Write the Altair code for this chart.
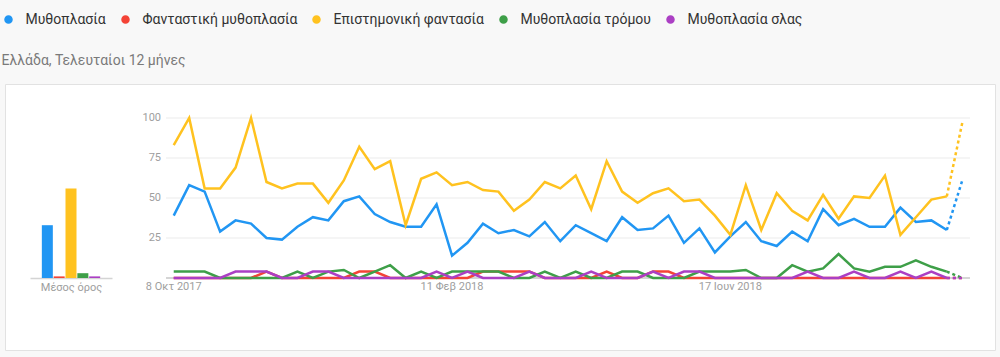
import altair as alt
import pandas as pd

# ---------------- data ----------------
terms = ["Μυθοπλασία", "Φανταστική μυθοπλασία", "Επιστημονική φαντασία",
         "Μυθοπλασία τρόμου", "Μυθοπλασία σλας"]
line_colors = ["#2196F3", "#F44336", "#FFC21F", "#3E9F48", "#AB3FC4"]

start_date = "2017-10-08"   # weekly series

blue_vals = [39, 58, 54, 29, 36, 34, 25, 24, 32, 38, 36, 48, 51, 40, 35, 32, 32, 46,
             14, 22, 34, 28, 30, 26, 35, 23, 33, 28, 23, 38, 30, 31, 39, 22, 31, 16,
             26, 35, 23, 20, 29, 23, 43, 33, 37, 32, 32, 44, 35, 36, 30, 61]
red_vals = [0, 0, 0, 0, 0, 0, 4, 0, 0, 0, 0, 0, 4, 4, 0, 0, 0, 0,
            0, 0, 4, 4, 4, 4, 0, 0, 0, 0, 4, 0, 0, 4, 4, 0, 0, 0,
            0, 0, 0, 0, 0, 0, 0, 0, 0, 0, 0, 0, 0, 0, 0, 0]
yellow_vals = [83, 100, 56, 56, 69, 100, 60, 56, 59, 59, 47, 61, 82, 68, 73, 33, 62, 66,
               58, 60, 55, 54, 42, 49, 60, 56, 64, 43, 73, 54, 47, 53, 56, 48, 49, 39,
               27, 58, 30, 53, 42, 36, 52, 37, 51, 50, 64, 27, 38, 49, 51, 97]
green_vals = [4, 4, 4, 0, 0, 0, 0, 0, 4, 0, 4, 5, 0, 4, 8, 0, 4, 0,
              4, 4, 4, 4, 0, 0, 4, 0, 4, 0, 0, 4, 4, 0, 0, 0, 4, 4,
              4, 5, 0, 0, 8, 4, 6, 15, 6, 4, 7, 7, 11, 7, 4, 0]
purple_vals = [0, 0, 0, 0, 4, 4, 4, 0, 0, 4, 4, 0, 0, 0, 0, 0, 0, 4,
               0, 4, 0, 0, 0, 4, 0, 0, 0, 4, 0, 0, 0, 4, 0, 4, 4, 0,
               0, 0, 0, 0, 0, 4, 0, 0, 4, 0, 0, 4, 0, 4, 0, 0]
series_values = [blue_vals, red_vals, yellow_vals, green_vals, purple_vals]

averages = [33, 1, 56, 3, 1]

y_tick_values = [25, 50, 75, 100]
x_tick_dates = ["2017-10-08", "2018-02-11", "2018-06-17"]
greek_months = ["Ιαν", "Φεβ", "Μαρ", "Απρ", "Μαΐ", "Ιουν",
                "Ιουλ", "Αυγ", "Σεπ", "Οκτ", "Νοε", "Δεκ"]
subtitle_text = "Ελλάδα, Τελευταίοι 12 μήνες"
average_label = "Μέσος όρος"

# ---------------- tables ----------------
n = len(blue_vals)
dates = pd.date_range(start_date, periods=n, freq="7D").strftime("%Y-%m-%d")
rows = []
for t, vals in zip(terms, series_values):
    for i, v in enumerate(vals):
        rows.append({"date": dates[i], "idx": i, "term": t, "value": v})
lines_df = pd.DataFrame(rows)
avg_df = pd.DataFrame({"term": terms, "avg": averages})
grid_df = pd.DataFrame({"tick": y_tick_values})


def greek_label(s):
    y, m, d = (int(p) for p in s.split("-"))
    return f"{d} {greek_months[m - 1]} {y}"


xtick_df = pd.DataFrame({"date": x_tick_dates,
                         "label": [greek_label(s) for s in x_tick_dates]})
last = n - 1

# ---------------- styling ----------------
LABEL_GRAY = "#9e9e9e"
AXIS_GRAY = "#d4d4d4"

y_scale = alt.Scale(domain=[0, 100], range=[194, 34])
x_dom = [alt.DateTime(year=2017, month=10, date=4, hours=12, utc=True),
         alt.DateTime(year=2018, month=10, date=3, hours=12, utc=True)]
x_scale = alt.Scale(type="utc", domain=x_dom, range=[161, 965])
color_scale = alt.Scale(domain=terms, range=line_colors)

grid = alt.Chart(grid_df).mark_rule(color="#ebebeb", strokeWidth=1).encode(
    x=alt.XDatum(x_dom[0], type="temporal", scale=x_scale, axis=None),
    x2=alt.X2Datum(x_dom[1]),
    y=alt.Y("tick:Q", scale=y_scale, axis=None),
)
baseline = alt.Chart(grid_df).mark_rule(color=AXIS_GRAY, strokeWidth=1.5).encode(
    x=alt.XDatum(x_dom[0], type="temporal", scale=x_scale, axis=None),
    x2=alt.X2Datum(x_dom[1]),
    y=alt.YDatum(0, scale=y_scale, axis=None),
)
y_labels = alt.Chart(grid_df).mark_text(
    align="right", baseline="middle", dx=-5, fontSize=11, color=LABEL_GRAY).encode(
    x=alt.XDatum(x_dom[0], type="temporal", scale=x_scale, axis=None),
    y=alt.Y("tick:Q", scale=y_scale, axis=None),
    text="tick:Q",
)
x_labels = alt.Chart(xtick_df).mark_text(
    align="center", baseline="top", dy=3, fontSize=11, color=LABEL_GRAY).encode(
    x=alt.X("date:T", scale=x_scale, axis=None),
    y=alt.YDatum(0, scale=y_scale, axis=None),
    text="label:N",
)

base = alt.Chart(lines_df)
solid = base.transform_filter(alt.datum.idx <= last - 1).mark_line(strokeWidth=2.5).encode(
    x=alt.X("date:T", scale=x_scale, axis=None),
    y=alt.Y("value:Q", scale=y_scale, axis=None),
    color=alt.Color("term:N", scale=color_scale, legend=None),
)
dashed = base.transform_filter(alt.datum.idx >= last - 1).mark_line(
    strokeWidth=2.5, strokeDash=[3, 3]).encode(
    x=alt.X("date:T", scale=x_scale, axis=None),
    y=alt.Y("value:Q", scale=y_scale, axis=None),
    color=alt.Color("term:N", scale=color_scale, legend=None),
)

bars = alt.Chart(avg_df).mark_bar().encode(
    x=alt.X("term:N", sort=terms,
            scale=alt.Scale(range=[25, 107], paddingInner=0.07, paddingOuter=1),
            axis=alt.Axis(orient="bottom", offset=-72, labels=False, ticks=False,
                          domainColor=AXIS_GRAY, domainWidth=1.5, title=average_label,
                          titleFontSize=11, titleFontWeight="normal", titleColor=LABEL_GRAY,
                          titlePadding=3, grid=False)),
    y=alt.Y("avg:Q", scale=y_scale, axis=None),
    color=alt.Color("term:N", scale=color_scale,
                    legend=alt.Legend(orient="none", legendX=-3.5, legendY=-71.5,
                                      direction="horizontal", title=None,
                                      symbolType="circle", symbolSize=49,
                                      labelFontSize=14, labelColor="#333333",
                                      labelLimit=300, columnPadding=12,
                                      labelOffset=10, padding=0)),
)

inner = alt.layer(grid, baseline, y_labels, x_labels, solid, dashed)
chart = alt.layer(bars, inner).resolve_scale(x="independent").properties(
    width=990, height=266,
    title=alt.Title(subtitle_text, anchor="start", offset=-55, fontSize=14,
                    fontWeight="normal", color="#7a7a7a"),
    autosize=alt.AutoSizeParams(type="none"),
    padding={"left": 5, "top": 84, "right": 5, "bottom": 7},
    background="#f8f8f8",
).configure(font="Roboto").configure_view(fill="white", stroke="#e2e2e2")

chart.save("out.html", embed_options={"renderer": "svg", "actions": False})
